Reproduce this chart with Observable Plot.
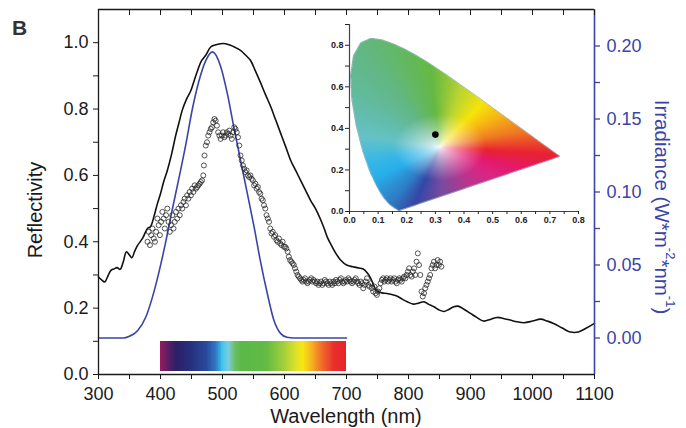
<!DOCTYPE html>
<html><head><meta charset="utf-8">
<script src="https://cdn.jsdelivr.net/npm/d3@7"></script>
<script src="https://cdn.jsdelivr.net/npm/@observablehq/plot@0.6"></script>
<style>
body{margin:0;background:#fff;}
#wrap{position:relative;width:686px;height:428px;overflow:hidden;font-family:'Liberation Sans',Arial,sans-serif;color:#1a1a1a;}
#wrap svg{position:absolute;left:0;top:0;}
.lbl{position:absolute;white-space:nowrap;line-height:1;}
</style></head><body><div id="wrap"></div>
<script>
// ---------- data ----------
const xTicks = [300,350,400,450,500,550,600,650,700,750,800,850,900,950,1000,1050,1100];
const reflTicks = [0,0.1,0.2,0.3,0.4,0.5,0.6,0.7,0.8,0.9,1.0];
const irrTicks = [0,0.025,0.05,0.075,0.1,0.125,0.15,0.175,0.2];

// solid black reflectivity curve [wavelength nm, reflectivity]
const reflectivity = [[300,0.294],[305,0.285],[310,0.279],[315,0.296],[320,0.314],[325,0.318],[330,0.322],[335,0.317],[340,0.34],[345,0.37],[350,0.36],[354,0.352],[358,0.37],[363,0.389],[371,0.41],[379,0.44],[384,0.446],[390,0.48],[395,0.515],[400,0.545],[405,0.58],[411,0.615],[418,0.665],[424,0.716],[430,0.76],[435,0.796],[442,0.83],[449,0.856],[455,0.89],[460,0.917],[466,0.945],[473,0.962],[481,0.987],[488,0.993],[497,0.997],[505,0.997],[513,0.992],[521,0.985],[529,0.977],[537,0.963],[545,0.947],[553,0.915],[561,0.881],[569,0.845],[578,0.806],[586,0.766],[594,0.726],[602,0.686],[610,0.645],[618,0.615],[626,0.585],[634,0.555],[642,0.525],[650,0.5],[658,0.468],[664,0.44],[669,0.414],[674,0.395],[680,0.374],[690,0.346],[701,0.329],[710,0.325],[717,0.322],[727,0.318],[734,0.305],[739,0.29],[744,0.268],[749,0.252],[757,0.246],[765,0.244],[773,0.241],[782,0.236],[790,0.227],[798,0.219],[808,0.212],[816,0.215],[825,0.219],[832,0.212],[841,0.204],[850,0.194],[857,0.19],[865,0.196],[873,0.204],[880,0.206],[890,0.196],[900,0.184],[910,0.172],[921,0.161],[932,0.166],[943,0.172],[953,0.169],[964,0.164],[975,0.159],[986,0.156],[1000,0.161],[1013,0.167],[1024,0.161],[1034,0.154],[1048,0.14],[1061,0.128],[1074,0.128],[1087,0.14],[1100,0.154]];

// blue irradiance curve [wavelength nm, W m^-2 nm^-1]
const irradiance = [[300,0],[340,0],[349,0.001],[363,0.005],[376,0.014],[387,0.028],[398,0.046],[408,0.065],[419,0.088],[430,0.110],[441,0.133],[451,0.156],[462,0.176],[473,0.190],[484,0.196],[497,0.186],[508,0.167],[518,0.145],[529,0.122],[540,0.099],[551,0.076],[561,0.053],[572,0.031],[583,0.012],[594,0.003],[604,0.0005],[615,0],[700,0]];

// open-circle measured reflectivity [wavelength nm, reflectivity]
const measured = [[379,0.40],[381,0.43],[383,0.39],[385,0.42],[387,0.44],[389,0.41],[391,0.40],[393,0.43],[395,0.47],[397,0.45],[399,0.42],[401,0.46],[403,0.49],[405,0.47],[407,0.44],[409,0.48],[411,0.50],[413,0.46],[415,0.43],[417,0.45],[419,0.48],[421,0.44],[423,0.46],[425,0.49],[427,0.47],[429,0.50],[431,0.48],[433,0.51],[435,0.50],[437,0.52],[439,0.53],[441,0.51],[443,0.54],[445,0.53],[447,0.55],[449,0.54],[451,0.56],[453,0.55],[455,0.57],[457,0.56],[459,0.565],[461,0.57],[463,0.575],[465,0.58],[467,0.585],[469,0.60],[470,0.63],[471,0.66],[473,0.69],[475,0.70],[477,0.72],[479,0.73],[481,0.74],[483,0.745],[485,0.76],[487,0.77],[489,0.765],[491,0.75],[493,0.73],[495,0.72],[497,0.71],[499,0.72],[501,0.73],[503,0.715],[505,0.72],[507,0.73],[509,0.725],[511,0.735],[513,0.72],[515,0.71],[517,0.73],[519,0.745],[521,0.74],[523,0.73],[525,0.715],[527,0.69],[529,0.66],[531,0.645],[533,0.63],[535,0.62],[537,0.61],[539,0.615],[541,0.60],[543,0.595],[545,0.60],[547,0.59],[549,0.585],[551,0.57],[553,0.575],[555,0.56],[557,0.565],[559,0.55],[561,0.545],[563,0.53],[565,0.525],[567,0.51],[569,0.50],[571,0.48],[573,0.47],[575,0.46],[577,0.44],[579,0.425],[581,0.43],[583,0.415],[585,0.42],[587,0.405],[589,0.40],[591,0.41],[593,0.395],[595,0.39],[597,0.40],[599,0.385],[601,0.385],[603,0.38],[605,0.37],[607,0.355],[609,0.345],[611,0.34],[613,0.335],[615,0.33],[617,0.32],[619,0.31],[621,0.30],[623,0.295],[625,0.29],[627,0.285],[629,0.28],[631,0.285],[633,0.29],[635,0.28],[637,0.275],[639,0.28],[641,0.285],[643,0.29],[645,0.28],[647,0.285],[649,0.28],[651,0.275],[653,0.28],[655,0.27],[657,0.275],[659,0.28],[661,0.27],[663,0.275],[665,0.285],[667,0.28],[669,0.275],[671,0.27],[673,0.28],[675,0.275],[677,0.27],[679,0.28],[681,0.275],[683,0.285],[685,0.28],[687,0.275],[689,0.285],[691,0.29],[693,0.28],[695,0.275],[697,0.28],[699,0.285],[701,0.28],[703,0.29],[705,0.285],[707,0.28],[709,0.275],[711,0.28],[713,0.285],[715,0.29],[717,0.28],[719,0.275],[721,0.27],[723,0.28],[725,0.275],[727,0.26],[729,0.27],[731,0.28],[733,0.29],[735,0.27],[737,0.265],[739,0.275],[741,0.26],[743,0.25],[745,0.265],[747,0.245],[749,0.24],[751,0.25],[753,0.26],[755,0.275],[757,0.285],[759,0.29],[761,0.28],[763,0.285],[765,0.29],[767,0.28],[769,0.285],[771,0.29],[773,0.28],[775,0.285],[777,0.29],[779,0.28],[781,0.275],[783,0.285],[785,0.29],[787,0.285],[789,0.28],[791,0.29],[793,0.295],[795,0.29],[797,0.30],[799,0.31],[801,0.32],[803,0.30],[805,0.295],[807,0.31],[809,0.32],[811,0.30],[813,0.34],[815,0.365],[817,0.33],[819,0.30],[821,0.25],[823,0.235],[825,0.245],[827,0.26],[829,0.27],[831,0.28],[833,0.29],[835,0.30],[837,0.32],[839,0.33],[841,0.34],[843,0.32],[845,0.33],[847,0.345],[849,0.33],[851,0.34],[853,0.325]];

// visible spectrum bar colour stops
const spectrumStops = [400,412,425,450,475,490,500,510,520,530,570,600,620,630,645,662,680,700];
const spectrumColors = ["#9c1a5c","#5e1e66","#2e1f66","#25307f","#2a4a9c","#2f78c4","#3cc3ef","#7ccde0","#6cbf6a","#5cb947","#60ba45","#a3cf3a","#e0e22a","#f8e70f","#f6b024","#ef6a2c","#e8302c","#e8222b"];
const spectrumRange = [400, 700];
const spectrumBarRefl = [0.008, 0.098];

// CIE 1931 spectral locus (x, y)
const locusX = [0.1741,0.1738,0.1733,0.1726,0.1714,0.1689,0.1644,0.1566,0.1440,0.1241,0.1096,0.0913,0.0687,0.0454,0.0235,0.0082,0.0039,0.0139,0.0389,0.0743,0.1142,0.1547,0.1929,0.2296,0.2658,0.3016,0.3373,0.3731,0.4087,0.4441,0.4788,0.5125,0.5448,0.5752,0.6029,0.6270,0.6658,0.6915,0.7079,0.7190,0.7260,0.7300,0.7334,0.7347];
const locusY = [0.0050,0.0049,0.0048,0.0048,0.0051,0.0069,0.0109,0.0177,0.0297,0.0578,0.0868,0.1327,0.2007,0.2950,0.4127,0.5384,0.6548,0.7502,0.8120,0.8338,0.8262,0.8059,0.7816,0.7543,0.7243,0.6923,0.6589,0.6245,0.5896,0.5547,0.5202,0.4866,0.4544,0.4242,0.3965,0.3725,0.3340,0.3083,0.2920,0.2809,0.2740,0.2700,0.2666,0.2653];
// hue around the white point of the stylised diagram (degrees -> colour)
const hueAngles = [-20,-5,15,35,55,75,95,120,145,170,195,215,238,252,272,300,325,340];
const hueColors = ["#e5196a","#e82232","#f07a22","#f6b316","#f7e40a","#bcd531","#64b944","#62b785","#62bca8","#64c2c8","#38b8e6","#27aeea","#2f7cc5","#3447a6","#7a4b9f","#b9368f","#dc2580","#e5196a"];
const whitePoint = [0.315, 0.31];
const colourPoint = [{x: 0.30, y: 0.37}];
const insetXTicks = [0,0.05,0.1,0.15,0.2,0.25,0.3,0.35,0.4,0.45,0.5,0.55,0.6,0.65,0.7,0.75,0.8];
const insetYTicks = [0,0.1,0.2,0.3,0.4,0.5,0.6,0.7,0.8,0.9];

// ---------- helpers ----------
const BLUE = "#3a44a6";
const irrToRefl = v => (v + 0.025) * 4.4;   // right axis (-0.025..0.225) onto left axis (0..1.1)
const reflToIrr = r => r / 4.4 - 0.025;
const refl = reflectivity.map(([wl, r]) => ({wl, r}));
const irr = irradiance.map(([wl, v]) => ({wl, r: irrToRefl(v)}));
const meas = measured.map(([wl, r]) => ({wl, r}));
const specScale = d3.scaleLinear().domain(spectrumStops).range(spectrumColors).interpolate(d3.interpolateRgb);
const spec = d3.range(spectrumRange[0], spectrumRange[1]).map(wl => ({wl, c: specScale(wl + 0.5)}));

const wrap = document.getElementById("wrap");

const main = Plot.plot({
  width: 686, height: 428,
  marginLeft: 98, marginRight: 92, marginTop: 9, marginBottom: 54,
  x: {domain: [300, 1100]},
  y: {domain: [0, 1.1]},
  style: {fontFamily: "'Liberation Sans', Arial, sans-serif", fontSize: "18px", background: "transparent", color: "#1a1a1a"},
  marks: [
    Plot.rect(spec, {x1: "wl", x2: d => d.wl + 1, y1: spectrumBarRefl[0], y2: spectrumBarRefl[1], fill: "c", shapeRendering: "crispEdges"}),
    Plot.line(irr, {x: "wl", y: "r", stroke: BLUE, strokeWidth: 1.6, curve: "monotone-x"}),
    Plot.line(refl, {x: "wl", y: "r", stroke: "#111", strokeWidth: 1.6, curve: "catmull-rom"}),
    Plot.dot(meas, {x: "wl", y: "r", r: 2.5, stroke: "#2a2a2a", strokeOpacity: 0.8, strokeWidth: 1, fill: "none"}),
    Plot.ruleY([0], {stroke: "#1a1a1a", strokeWidth: 1.3}),
    Plot.ruleY([1.1], {stroke: "#1a1a1a", strokeWidth: 1.3}),
    Plot.ruleX([300], {stroke: "#1a1a1a", strokeWidth: 1.3}),
    Plot.ruleX([1100], {stroke: BLUE, strokeWidth: 1.6}),
    Plot.axisX(xTicks, {anchor: "bottom", tickSize: 5, tickPadding: 8, tickFormat: d => d % 100 === 0 ? String(d) : "", label: null}),
    Plot.axisX(xTicks, {anchor: "top", tickSize: 5, dy: 5, fill: "none", label: null}),
    Plot.axisY(reflTicks, {anchor: "left", tickSize: 5, tickPadding: 5, tickFormat: d => Math.round(d * 10) % 2 === 0 ? d.toFixed(1) : "", label: null}),
    Plot.axisY(irrTicks.map(irrToRefl), {anchor: "right", tickSize: 5, tickPadding: 7, color: BLUE, strokeWidth: 1.3,
      tickFormat: d => { const v = reflToIrr(d); return Math.round(v / 0.025) % 2 === 0 ? v.toFixed(2) : ""; }, label: null})
  ]
});
wrap.appendChild(main);

// ---------- inset chromaticity diagram ----------
const polygon = locusX.map((x, i) => [x, locusY[i]]);
const hueScale = d3.scaleLinear().domain(hueAngles).range(hueColors).interpolate(d3.interpolateRgb).clamp(true);
function cieColour(x, y) {
  if (!d3.polygonContains(polygon, [x, y])) return null;
  const dx = x - whitePoint[0], dy = y - whitePoint[1];
  let a = Math.atan2(dy, dx) * 180 / Math.PI;
  if (a < -20) a += 360;
  const d = Math.hypot(dx, dy);
  const t = Math.pow(Math.min(1, d / 0.16), 0.65);
  return d3.interpolateRgb("#ffffff", hueScale(a))(t);
}
const locusClosed = polygon.concat([polygon[0]]).map(([x, y]) => ({x, y}));

const inset = Plot.plot({
  width: 300, height: 235,
  marginLeft: 49, marginRight: 22, marginTop: 24, marginBottom: 24,
  x: {domain: [0, 0.8]},
  y: {domain: [0, 0.9]},
  style: {fontFamily: "'Liberation Sans', Arial, sans-serif", fontSize: "9px", fontWeight: "bold", background: "transparent", color: "#222"},
  marks: [
    Plot.raster({x1: 0, y1: 0, x2: 0.8, y2: 0.9, fill: cieColour, pixelSize: 0.5}),
    Plot.line(locusClosed, {x: "x", y: "y", stroke: "#4a7f9a", strokeOpacity: 0.5, strokeWidth: 0.8}),
    Plot.dot(colourPoint, {x: "x", y: "y", r: 3.3, fill: "#000"}),
    Plot.ruleX([0], {stroke: "#444", strokeWidth: 1.2}),
    Plot.ruleY([0], {stroke: "#444", strokeWidth: 1.2}),
    Plot.axisX(insetXTicks, {anchor: "bottom", tickSize: 3, tickPadding: 2, tickFormat: d => Math.round(d * 100) % 10 === 0 ? d.toFixed(1) : "", label: null}),
    Plot.axisY(insetYTicks, {anchor: "left", tickSize: 4, tickPadding: 2, tickFormat: d => Math.round(d * 10) % 2 === 0 && d < 0.85 ? d.toFixed(1) : "", label: null})
  ]
});
inset.style.left = "300px";
inset.style.top = "0px";
wrap.appendChild(inset);

// ---------- labels ----------
function label(html, css) {
  const el = document.createElement("div");
  el.className = "lbl";
  el.innerHTML = html;
  Object.assign(el.style, css);
  wrap.appendChild(el);
  return el;
}
label("B", {left: "12px", top: "17px", fontSize: "21px", fontWeight: "bold", color: "#333"});
label("Reflectivity", {left: "35px", top: "210px", fontSize: "20px", transform: "translate(-50%,-50%) rotate(-90deg)"});
label("Wavelength (nm)", {left: "346px", top: "406px", fontSize: "20px", transform: "translateX(-50%)"});
label("Irradiance (W*m<sup style='font-size:13px'>-2</sup>*nm<sup style='font-size:13px'>-1</sup>)",
  {left: "664px", top: "207px", fontSize: "20.5px", color: BLUE, writingMode: "vertical-rl", transform: "translate(-50%,-50%)"});
</script></body></html>
